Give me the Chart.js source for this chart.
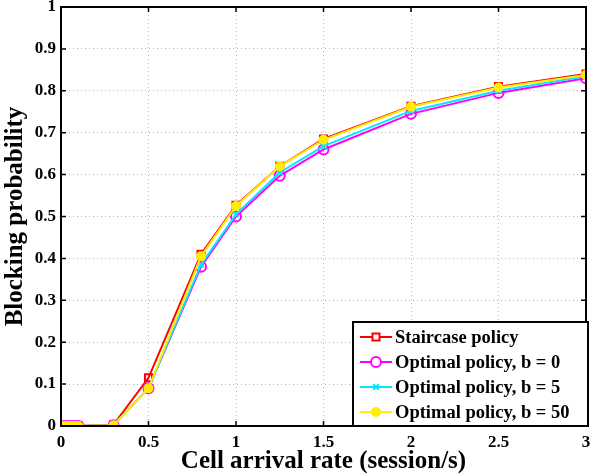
<!DOCTYPE html>
<html>
<head>
<meta charset="utf-8">
<script src="https://cdn.jsdelivr.net/npm/chart.js@4/dist/chart.umd.min.js"></script>
<style>
  html, body { margin: 0; padding: 0; background: #fff; }
  #wrap { width: 598px; height: 474px; }
</style>
</head>
<body>
<div id="wrap"><canvas id="myChart" width="598" height="474"></canvas></div>
<script>
  // data
  const arrivalRate = [0, 0.025, 0.05, 0.075, 0.1, 0.3, 0.5, 0.8, 1, 1.25, 1.5, 2, 2.5, 3];
  const staircase = [0, 0, 0, 0, 0, 0.003, 0.115, 0.41, 0.527, 0.62, 0.685, 0.763, 0.81, 0.84];
  const optimalB0 = [0, 0, 0, 0, 0, 0.002, 0.09, 0.38, 0.5, 0.597, 0.66, 0.745, 0.795, 0.83];
  const optimalB5 = [0, 0, 0, 0, 0, 0.002, 0.09, 0.385, 0.505, 0.605, 0.668, 0.752, 0.8, 0.835];
  const optimalB50 = [0, 0, 0, 0, 0, 0.002, 0.09, 0.405, 0.525, 0.62, 0.683, 0.762, 0.808, 0.838];
  const xTicks = [0, 0.5, 1, 1.5, 2, 2.5, 3];
  const yTicks = [0, 0.1, 0.2, 0.3, 0.4, 0.5, 0.6, 0.7, 0.8, 0.9, 1];

  const serif = '"Liberation Serif", "Times New Roman", serif';

  function pts(ys) {
    return arrivalRate.map((x, i) => ({ x: x, y: ys[i] }));
  }

  const series = [
    { label: 'Staircase policy', data: staircase, color: '#ff0000', style: 'rect', fill: false, radius: 5, order: 4 },
    { label: 'Optimal policy, b = 0', data: optimalB0, color: '#ff00ff', style: 'circle', fill: false, radius: 5, order: 3 },
    { label: 'Optimal policy, b = 5', data: optimalB5, color: '#00e8ff', style: 'crossRot', fill: false, radius: 4, order: 2 },
    { label: 'Optimal policy, b = 50', data: optimalB50, color: '#ffee00', style: 'circle', fill: true, radius: 4, order: 1 }
  ];

  // box + inward ticks like matlab, and the legend
  const frame = {
    id: 'frame',
    afterDatasetsDraw(chart) {
      const ctx = chart.ctx;
      const a = chart.chartArea;
      const xs = chart.scales.x, ys = chart.scales.y;
      ctx.save();
      ctx.strokeStyle = '#000';
      ctx.lineWidth = 2;
      ctx.strokeRect(a.left, a.top, a.right - a.left, a.bottom - a.top);
      ctx.lineWidth = 1.5;
      ctx.beginPath();
      xTicks.forEach(v => {
        const px = xs.getPixelForValue(v);
        ctx.moveTo(px, a.bottom); ctx.lineTo(px, a.bottom - 5);
        ctx.moveTo(px, a.top); ctx.lineTo(px, a.top + 5);
      });
      yTicks.forEach(v => {
        const py = ys.getPixelForValue(v);
        ctx.moveTo(a.left, py); ctx.lineTo(a.left + 5, py);
        ctx.moveTo(a.right, py); ctx.lineTo(a.right - 5, py);
      });
      ctx.stroke();

      // legend box in lower right
      const lx = 353, ly = 322, lw = a.right + 2 - 353, lh = a.bottom - 322;
      ctx.fillStyle = '#fff';
      ctx.fillRect(lx, ly, lw, lh);
      ctx.strokeStyle = '#000';
      ctx.lineWidth = 2;
      ctx.strokeRect(lx, ly, lw, lh);
      ctx.font = 'bold 18.5px ' + serif;
      ctx.textBaseline = 'middle';
      series.forEach((s, i) => {
        const cy = ly + 15 + i * 25;
        ctx.strokeStyle = s.color;
        ctx.lineWidth = 2;
        ctx.beginPath();
        ctx.moveTo(lx + 7, cy); ctx.lineTo(lx + 39, cy);
        ctx.stroke();
        ctx.fillStyle = s.fill ? s.color : '#fff';
        Chart.helpers.drawPoint(ctx, {
          pointStyle: s.style, radius: s.radius, borderWidth: 2, rotation: 0
        }, lx + 23, cy);
        ctx.fillStyle = '#000';
        ctx.fillText(s.label, lx + 42, cy + 1);
      });
      ctx.restore();
    }
  };

  const ctx = document.getElementById('myChart').getContext('2d');
  new Chart(ctx, {
    type: 'line',
    data: {
      datasets: series.map(s => ({
        label: s.label,
        data: pts(s.data),
        borderColor: s.color,
        backgroundColor: s.fill ? s.color : 'rgba(0,0,0,0)',
        pointBackgroundColor: s.fill ? s.color : 'rgba(0,0,0,0)',
        pointBorderColor: s.color,
        pointStyle: s.style,
        pointRadius: s.radius,
        pointBorderWidth: 2,
        borderWidth: 2,
        tension: 0,
        order: s.order
      }))
    },
    options: {
      responsive: false,
      animation: false,
      layout: { padding: { top: 6, right: 12, left: 0, bottom: 0 } },
      plugins: {
        legend: { display: false },
        tooltip: { enabled: false }
      },
      scales: {
        x: {
          type: 'linear',
          min: 0,
          max: 3,
          afterBuildTicks: axis => { axis.ticks = xTicks.map(v => ({ value: v })); },
          afterFit: axis => { axis.height = 48; axis.paddingLeft = 0; axis.paddingRight = 0; },
          grid: { color: '#bbb', borderDash: [1, 3], drawTicks: false },
          border: { display: false, dash: [1, 3] },
          ticks: {
            color: '#000',
            padding: 6,
            maxRotation: 0,
            font: { family: serif, size: 17, weight: 'bold' },
            callback: v => String(v)
          },
          title: {
            display: true,
            text: 'Cell arrival rate (session/s)',
            color: '#000',
            padding: { top: 0, bottom: 0 },
            font: { family: serif, size: 25, weight: 'bold', lineHeight: 1 }
          }
        },
        y: {
          type: 'linear',
          min: 0,
          max: 1,
          afterBuildTicks: axis => { axis.ticks = yTicks.map(v => ({ value: v })); },
          afterFit: axis => { axis.width = 61; axis.paddingTop = 0; axis.paddingBottom = 0; },
          grid: { color: '#bbb', borderDash: [1, 3], drawTicks: false },
          border: { display: false, dash: [1, 3] },
          ticks: {
            color: '#000',
            padding: 5,
            font: { family: serif, size: 17, weight: 'bold' },
            callback: v => String(v)
          },
          title: {
            display: true,
            text: 'Blocking probability',
            color: '#000',
            padding: { top: 3, bottom: 0 },
            font: { family: serif, size: 25, weight: 'bold', lineHeight: 1 }
          }
        }
      }
    },
    plugins: [frame]
  });
</script>
</body>
</html>
